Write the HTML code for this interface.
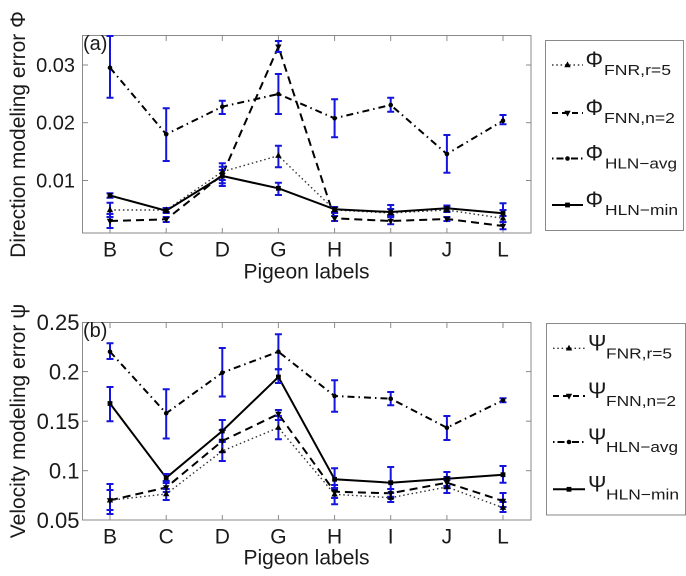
<!DOCTYPE html>
<html><head><meta charset="utf-8"><style>
html,body{margin:0;padding:0;background:#fff;}
svg{display:block;}
text{font-family:"Liberation Sans",Arial,sans-serif;fill:#1a1a1a;}
</style></head><body>
<svg width="686" height="576" viewBox="0 0 686 576" xmlns="http://www.w3.org/2000/svg">
<defs>
<path id="tu" d="M0,-3.6 L3.2,2.2 L-3.2,2.2 Z" fill="#000"/>
<path id="td" d="M0,3.6 L3.2,-2.2 L-3.2,-2.2 Z" fill="#000"/>
<circle id="dt" r="2.3" fill="#000"/>
<rect id="sq" x="-2.4" y="-2.4" width="4.8" height="4.8" fill="#000"/>
</defs>
<rect width="686" height="576" fill="#fff"/>

<!-- ================= PANEL A ================= -->
<g>
<rect x="82.5" y="35.5" width="448.5" height="197.5" fill="none" stroke="#8a8a8a" stroke-width="1"/>
<g stroke="#8a8a8a" stroke-width="1">
<line x1="110" y1="233" x2="110" y2="228"/><line x1="166.2" y1="233" x2="166.2" y2="228"/><line x1="222.3" y1="233" x2="222.3" y2="228"/><line x1="278.4" y1="233" x2="278.4" y2="228"/><line x1="334.6" y1="233" x2="334.6" y2="228"/><line x1="390.7" y1="233" x2="390.7" y2="228"/><line x1="446.9" y1="233" x2="446.9" y2="228"/><line x1="503" y1="233" x2="503" y2="228"/>
<line x1="110" y1="36" x2="110" y2="41"/><line x1="166.2" y1="36" x2="166.2" y2="41"/><line x1="222.3" y1="36" x2="222.3" y2="41"/><line x1="278.4" y1="36" x2="278.4" y2="41"/><line x1="334.6" y1="36" x2="334.6" y2="41"/><line x1="390.7" y1="36" x2="390.7" y2="41"/><line x1="446.9" y1="36" x2="446.9" y2="41"/><line x1="503" y1="36" x2="503" y2="41"/>
<line x1="83" y1="65" x2="88" y2="65"/><line x1="83" y1="122.7" x2="88" y2="122.7"/><line x1="83" y1="180.5" x2="88" y2="180.5"/>
<line x1="531" y1="65" x2="526" y2="65"/><line x1="531" y1="122.7" x2="526" y2="122.7"/><line x1="531" y1="180.5" x2="526" y2="180.5"/>
</g>
<g font-size="20" text-anchor="end">
<text x="75" y="72">0.03</text><text x="75" y="129.7">0.02</text><text x="75" y="187.5">0.01</text>
</g>
<g font-size="21" text-anchor="middle">
<text x="110" y="256.5">B</text><text x="166.2" y="256.5">C</text><text x="222.3" y="256.5">D</text><text x="278.4" y="256.5">G</text><text x="334.6" y="256.5">H</text><text x="390.7" y="256.5">I</text><text x="446.9" y="256.5">J</text><text x="503" y="256.5">L</text>
<text x="306.5" y="278.5">Pigeon labels</text>
<text transform="translate(25,134.5) rotate(-90)">Direction modeling error Φ</text>
</g>
<text x="83" y="50" font-size="20">(a)</text>

<!-- lines -->
<polyline fill="none" stroke="#000" stroke-width="2" stroke-dasharray="7,4,1.5,4" points="110,67.7 166.2,134.3 222.3,106.7 278.4,94 334.6,118.3 390.7,105 446.9,154 503,120.7"/>
<polyline fill="none" stroke="#000" stroke-width="2" stroke-dasharray="8,5" points="110,221 166.2,219.3 222.3,175 278.4,46.7 334.6,218.3 390.7,221 446.9,219 503,226"/>
<polyline fill="none" stroke="#333" stroke-width="1.4" stroke-dasharray="1.5,2.8" points="110,210 166.2,210 222.3,171.7 278.4,155.7 334.6,210 390.7,213 446.9,210 503,218.3"/>
<polyline fill="none" stroke="#000" stroke-width="2" points="110,195.5 166.2,210.7 222.3,176 278.4,188.3 334.6,209.3 390.7,212 446.9,208.3 503,213.3"/>

<!-- error bars -->
<g stroke="#1414dc" stroke-width="2" fill="none">
<path d="M110,36V97.7M106.5,36H113.5M106.5,97.7H113.5 M166.2,108.3V161M162.7,108.3H169.7M162.7,161H169.7 M222.3,100.7V114M218.8,100.7H225.8M218.8,114H225.8 M278.4,74V114M274.9,74H281.9M274.9,114H281.9 M334.6,99.3V137.3M331.1,99.3H338.1M331.1,137.3H338.1 M390.7,97.7V111.7M387.2,97.7H394.2M387.2,111.7H394.2 M446.9,135V172.7M443.4,135H450.4M443.4,172.7H450.4 M503,115V124.3M499.5,115H506.5M499.5,124.3H506.5"/>
<path d="M110,214V228M106.5,214H113.5M106.5,228H113.5 M166.2,217V222M162.7,217H169.7M162.7,222H169.7 M222.3,166.7V183.3M218.8,166.7H225.8M218.8,183.3H225.8 M278.4,41V52M274.9,41H281.9M274.9,52H281.9 M334.6,216V221M331.1,216H338.1M331.1,221H338.1 M390.7,216V224.3M387.2,216H394.2M387.2,224.3H394.2 M446.9,217V221M443.4,217H450.4M443.4,221H450.4 M503,222V229.3M499.5,222H506.5M499.5,229.3H506.5"/>
<path d="M110,202.7V217M106.5,202.7H113.5M106.5,217H113.5 M166.2,208V212M162.7,208H169.7M162.7,212H169.7 M222.3,163.3V180M218.8,163.3H225.8M218.8,180H225.8 M278.4,145.7V167.3M274.9,145.7H281.9M274.9,167.3H281.9 M334.6,207V213M331.1,207H338.1M331.1,213H338.1 M390.7,205V217M387.2,205H394.2M387.2,217H394.2 M446.9,207V212M443.4,207H450.4M443.4,212H450.4 M503,203.3V222M499.5,203.3H506.5M499.5,222H506.5"/>
<path d="M110,193.3V197.7M106.5,193.3H113.5M106.5,197.7H113.5 M166.2,208V213M162.7,208H169.7M162.7,213H169.7 M222.3,170V186M218.8,170H225.8M218.8,186H225.8 M278.4,182.7V195M274.9,182.7H281.9M274.9,195H281.9 M334.6,207V212M331.1,207H338.1M331.1,212H338.1 M390.7,209V215M387.2,209H394.2M387.2,215H394.2 M446.9,205.5V211.5M443.4,205.5H450.4M443.4,211.5H450.4 M503,210V216M499.5,210H506.5M499.5,216H506.5"/>
</g>
<!-- markers -->
<g>
<use href="#dt" x="110" y="67.7"/><use href="#dt" x="166.2" y="134.3"/><use href="#dt" x="222.3" y="106.7"/><use href="#dt" x="278.4" y="94"/><use href="#dt" x="334.6" y="118.3"/><use href="#dt" x="390.7" y="105"/><use href="#dt" x="446.9" y="154"/><use href="#dt" x="503" y="120.7"/>
<use href="#td" x="110" y="221"/><use href="#td" x="166.2" y="219.3"/><use href="#td" x="222.3" y="175"/><use href="#td" x="278.4" y="46.7"/><use href="#td" x="334.6" y="218.3"/><use href="#td" x="390.7" y="221"/><use href="#td" x="446.9" y="219"/><use href="#td" x="503" y="226"/>
<use href="#tu" x="110" y="210"/><use href="#tu" x="166.2" y="210"/><use href="#tu" x="222.3" y="171.7"/><use href="#tu" x="278.4" y="155.7"/><use href="#tu" x="334.6" y="210"/><use href="#tu" x="390.7" y="213"/><use href="#tu" x="446.9" y="210"/><use href="#tu" x="503" y="218.3"/>
<use href="#sq" x="110" y="195.5"/><use href="#sq" x="166.2" y="210.7"/><use href="#sq" x="222.3" y="176"/><use href="#sq" x="278.4" y="188.3"/><use href="#sq" x="334.6" y="209.3"/><use href="#sq" x="390.7" y="212"/><use href="#sq" x="446.9" y="208.3"/><use href="#sq" x="503" y="213.3"/>
</g>

<!-- legend a -->
<rect x="545.5" y="40.5" width="138" height="190" fill="#fff" stroke="#8a8a8a" stroke-width="1"/>
<line x1="552" y1="65" x2="583" y2="65" stroke="#333" stroke-width="1.4" stroke-dasharray="1.5,2.8"/>
<use href="#tu" x="567.5" y="65"/>
<line x1="552" y1="113" x2="583" y2="113" stroke="#000" stroke-width="2" stroke-dasharray="6,4"/>
<use href="#td" x="567.5" y="113"/>
<line x1="552" y1="158.5" x2="583" y2="158.5" stroke="#000" stroke-width="2" stroke-dasharray="1.5,3,7,3"/>
<use href="#dt" x="567.5" y="158.5"/>
<line x1="552" y1="205" x2="583" y2="205" stroke="#000" stroke-width="2"/>
<use href="#sq" x="567.5" y="205"/>
<g font-size="22">
<text x="585.5" y="67">Φ</text><text x="585.5" y="115">Φ</text><text x="585.5" y="160.5">Φ</text><text x="585.5" y="207">Φ</text>
</g>
<g font-size="15">
<text x="604" y="75" textLength="67" lengthAdjust="spacingAndGlyphs">FNR,r=5</text>
<text x="604" y="123" textLength="71" lengthAdjust="spacingAndGlyphs">FNN,n=2</text>
<text x="605" y="168.5" textLength="72" lengthAdjust="spacingAndGlyphs">HLN−avg</text>
<text x="605" y="215" textLength="73" lengthAdjust="spacingAndGlyphs">HLN−min</text>
</g>
</g>

<!-- ================= PANEL B ================= -->
<g>
<rect x="82.5" y="322.5" width="448.5" height="197.5" fill="none" stroke="#8a8a8a" stroke-width="1"/>
<g stroke="#8a8a8a" stroke-width="1">
<line x1="110" y1="520" x2="110" y2="515"/><line x1="166.2" y1="520" x2="166.2" y2="515"/><line x1="222.3" y1="520" x2="222.3" y2="515"/><line x1="278.4" y1="520" x2="278.4" y2="515"/><line x1="334.6" y1="520" x2="334.6" y2="515"/><line x1="390.7" y1="520" x2="390.7" y2="515"/><line x1="446.9" y1="520" x2="446.9" y2="515"/><line x1="503" y1="520" x2="503" y2="515"/>
<line x1="110" y1="323" x2="110" y2="328"/><line x1="166.2" y1="323" x2="166.2" y2="328"/><line x1="222.3" y1="323" x2="222.3" y2="328"/><line x1="278.4" y1="323" x2="278.4" y2="328"/><line x1="334.6" y1="323" x2="334.6" y2="328"/><line x1="390.7" y1="323" x2="390.7" y2="328"/><line x1="446.9" y1="323" x2="446.9" y2="328"/><line x1="503" y1="323" x2="503" y2="328"/>
<line x1="83" y1="371.6" x2="88" y2="371.6"/><line x1="83" y1="421.2" x2="88" y2="421.2"/><line x1="83" y1="470.7" x2="88" y2="470.7"/>
<line x1="531" y1="371.6" x2="526" y2="371.6"/><line x1="531" y1="421.2" x2="526" y2="421.2"/><line x1="531" y1="470.7" x2="526" y2="470.7"/>
</g>
<g font-size="22" text-anchor="end">
<text x="79.5" y="330">0.25</text><text x="79.5" y="379.5">0.2</text><text x="79.5" y="429">0.15</text><text x="79.5" y="478.5">0.1</text><text x="79.5" y="528">0.05</text>
</g>
<g font-size="21" text-anchor="middle">
<text x="110" y="543.5">B</text><text x="166.2" y="543.5">C</text><text x="222.3" y="543.5">D</text><text x="278.4" y="543.5">G</text><text x="334.6" y="543.5">H</text><text x="390.7" y="543.5">I</text><text x="446.9" y="543.5">J</text><text x="503" y="543.5">L</text>
<text x="306.5" y="564.5">Pigeon labels</text>
<text transform="translate(25,421) rotate(-90)">Velocity modeling error ψ</text>
</g>
<text x="83" y="337" font-size="20">(b)</text>

<polyline fill="none" stroke="#000" stroke-width="2" stroke-dasharray="7,4,1.5,4" points="110,351.7 166.2,413.3 222.3,372.7 278.4,351.7 334.6,396 390.7,398.7 446.9,427.7 503,400.3"/>
<polyline fill="none" stroke="#000" stroke-width="2" stroke-dasharray="8,5" points="110,500.3 166.2,487.5 222.3,441 278.4,414 334.6,491.7 390.7,493.3 446.9,482.7 503,501"/>
<polyline fill="none" stroke="#333" stroke-width="1.4" stroke-dasharray="1.5,2.8" points="110,500.3 166.2,494 222.3,451 278.4,427.7 334.6,494.3 390.7,497.7 446.9,487 503,507.7"/>
<polyline fill="none" stroke="#000" stroke-width="2" points="110,403.5 166.2,477.8 222.3,431 278.4,377 334.6,479.3 390.7,482.7 446.9,478.7 503,474.7"/>

<g stroke="#1414dc" stroke-width="2" fill="none">
<path d="M110,343.3V359M106.5,343.3H113.5M106.5,359H113.5 M166.2,389.3V438.5M162.7,389.3H169.7M162.7,438.5H169.7 M222.3,348V396.5M218.8,348H225.8M218.8,396.5H225.8 M278.4,334.3V369.3M274.9,334.3H281.9M274.9,369.3H281.9 M334.6,380.3V411.7M331.1,380.3H338.1M331.1,411.7H338.1 M390.7,392V405.3M387.2,392H394.2M387.2,405.3H394.2 M446.9,416V440M443.4,416H450.4M443.4,440H450.4 M503,398.3V402.3M499.5,398.3H506.5M499.5,402.3H506.5"/>
<path d="M110,387V421.3M106.5,387H113.5M106.5,421.3H113.5 M166.2,474V481M162.7,474H169.7M162.7,481H169.7 M222.3,420V442M218.8,420H225.8M218.8,442H225.8 M278.4,369.3V383M274.9,369.3H281.9M274.9,383H281.9 M334.6,468.3V490M331.1,468.3H338.1M331.1,490H338.1 M390.7,467V496.7M387.2,467H394.2M387.2,496.7H394.2 M446.9,472V486M443.4,472H450.4M443.4,486H450.4 M503,466V482.7M499.5,466H506.5M499.5,482.7H506.5"/>
<path d="M110,484V514M106.5,484H113.5M106.5,514H113.5 M166.2,483V492M162.7,483H169.7M162.7,492H169.7 M222.3,430V452M218.8,430H225.8M218.8,452H225.8 M278.4,410V420M274.9,410H281.9M274.9,420H281.9 M334.6,485V498M331.1,485H338.1M331.1,498H338.1 M390.7,489V498M387.2,489H394.2M387.2,498H394.2 M446.9,477V488M443.4,477H450.4M443.4,488H450.4 M503,493V507M499.5,493H506.5M499.5,507H506.5"/>
<path d="M110,490V510M106.5,490H113.5M106.5,510H113.5 M166.2,489V500M162.7,489H169.7M162.7,500H169.7 M222.3,440V461M218.8,440H225.8M218.8,461H225.8 M278.4,416V439.3M274.9,416H281.9M274.9,439.3H281.9 M334.6,488V504.3M331.1,488H338.1M331.1,504.3H338.1 M390.7,493V502M387.2,493H394.2M387.2,502H394.2 M446.9,480V493M443.4,480H450.4M443.4,493H450.4 M503,502V512M499.5,502H506.5M499.5,512H506.5"/>
</g>
<g>
<use href="#dt" x="110" y="351.7"/><use href="#dt" x="166.2" y="413.3"/><use href="#dt" x="222.3" y="372.7"/><use href="#dt" x="278.4" y="351.7"/><use href="#dt" x="334.6" y="396"/><use href="#dt" x="390.7" y="398.7"/><use href="#dt" x="446.9" y="427.7"/><use href="#dt" x="503" y="400.3"/>
<use href="#td" x="110" y="500.3"/><use href="#td" x="166.2" y="487.5"/><use href="#td" x="222.3" y="441"/><use href="#td" x="278.4" y="414"/><use href="#td" x="334.6" y="491.7"/><use href="#td" x="390.7" y="493.3"/><use href="#td" x="446.9" y="482.7"/><use href="#td" x="503" y="501"/>
<use href="#tu" x="110" y="500.3"/><use href="#tu" x="166.2" y="494"/><use href="#tu" x="222.3" y="451"/><use href="#tu" x="278.4" y="427.7"/><use href="#tu" x="334.6" y="494.3"/><use href="#tu" x="390.7" y="497.7"/><use href="#tu" x="446.9" y="487"/><use href="#tu" x="503" y="507.7"/>
<use href="#sq" x="110" y="403.5"/><use href="#sq" x="166.2" y="477.8"/><use href="#sq" x="222.3" y="431"/><use href="#sq" x="278.4" y="377"/><use href="#sq" x="334.6" y="479.3"/><use href="#sq" x="390.7" y="482.7"/><use href="#sq" x="446.9" y="478.7"/><use href="#sq" x="503" y="474.7"/>
</g>

<!-- legend b -->
<rect x="546.5" y="323.5" width="139" height="191.5" fill="#fff" stroke="#8a8a8a" stroke-width="1"/>
<line x1="553" y1="348.3" x2="585" y2="348.3" stroke="#333" stroke-width="1.4" stroke-dasharray="1.5,2.8"/>
<use href="#tu" x="569" y="348.3"/>
<line x1="553" y1="396" x2="585" y2="396" stroke="#000" stroke-width="2" stroke-dasharray="6,4"/>
<use href="#td" x="569" y="396"/>
<line x1="553" y1="442" x2="585" y2="442" stroke="#000" stroke-width="2" stroke-dasharray="1.5,3,7,3"/>
<use href="#dt" x="569" y="442"/>
<line x1="553" y1="489.3" x2="585" y2="489.3" stroke="#000" stroke-width="2"/>
<use href="#sq" x="569" y="489.3"/>
<g font-size="22">
<text x="588" y="350.5">Ψ</text><text x="588" y="398">Ψ</text><text x="588" y="444">Ψ</text><text x="588" y="491.5">Ψ</text>
</g>
<g font-size="15">
<text x="606" y="358.5" textLength="66" lengthAdjust="spacingAndGlyphs">FNR,r=5</text>
<text x="606" y="406" textLength="70" lengthAdjust="spacingAndGlyphs">FNN,n=2</text>
<text x="606" y="452" textLength="72" lengthAdjust="spacingAndGlyphs">HLN−avg</text>
<text x="606" y="499.5" textLength="73" lengthAdjust="spacingAndGlyphs">HLN−min</text>
</g>
</g>
</svg>
</body></html>
